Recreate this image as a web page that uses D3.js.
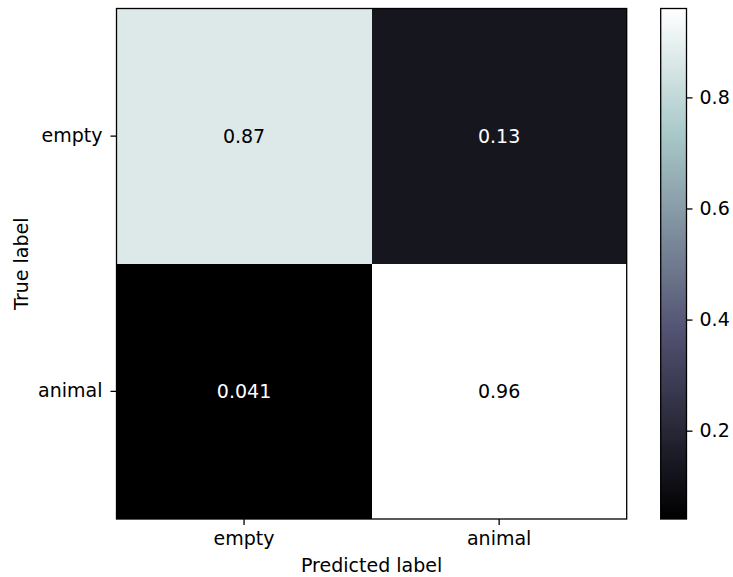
<!DOCTYPE html>
<html>
<head>
<meta charset="utf-8">
<script src="https://cdn.jsdelivr.net/npm/d3@7"></script>
<style>
  html, body { margin: 0; padding: 0; background: #fff; }
  svg { display: block; font-family: "DejaVu Sans", sans-serif; }
</style>
</head>
<body>
<svg id="chart" width="733" height="577"></svg>
<script>
// Confusion matrix: rows are true labels, columns are predicted labels
const trueLabels = ["empty", "animal"];
const predictedLabels = ["empty", "animal"];
const rowEmpty = [0.87, 0.13];
const rowAnimal = [0.041, 0.96];
const cellText = [["0.87", "0.13"], ["0.041", "0.96"]];
const colorbarTicks = [0.2, 0.4, 0.6, 0.8];

const matrix = [rowEmpty, rowAnimal];
const allValues = matrix.flat();
const vmin = d3.min(allValues), vmax = d3.max(allValues);

// Matplotlib "bone" colormap segments
const boneSeg = {
  r: [[0, 0], [0.746032, 0.652778], [1, 1]],
  g: [[0, 0], [0.365079, 0.319444], [0.746032, 0.777778], [1, 1]],
  b: [[0, 0], [0.365079, 0.444444], [1, 1]]
};
function channel(seg, t) {
  for (let i = 1; i < seg.length; i++) {
    if (t <= seg[i][0]) {
      const [x0, y0] = seg[i - 1], [x1, y1] = seg[i];
      return y0 + (y1 - y0) * (t - x0) / (x1 - x0);
    }
  }
  return seg[seg.length - 1][1];
}
function bone(t) {
  t = Math.max(0, Math.min(1, t));
  return d3.rgb(channel(boneSeg.r, t) * 255, channel(boneSeg.g, t) * 255, channel(boneSeg.b, t) * 255).formatHex();
}

const svg = d3.select("#chart");
const fontSize = 19;
const tickLen = 6;

const plotLeft = 116.5, plotRight = 626.7, plotTop = 8.5, plotBottom = 519;
const x = d3.scaleBand().domain(predictedLabels).range([plotLeft, plotRight]);
const y = d3.scaleBand().domain(trueLabels).range([plotTop, plotBottom]);
const norm = d3.scaleLinear().domain([vmin, vmax]).range([0, 1]);

const cells = [];
trueLabels.forEach((t, i) => predictedLabels.forEach((p, j) => {
  cells.push({ t, p, v: matrix[i][j], label: cellText[i][j] });
}));

// Cells
svg.append("g").selectAll("rect").data(cells).join("rect")
  .attr("x", d => x(d.p))
  .attr("y", d => y(d.t))
  .attr("width", x.bandwidth())
  .attr("height", y.bandwidth())
  .attr("fill", d => bone(norm(d.v)))
  .attr("shape-rendering", "crispEdges");

// Value labels; light text on dark cells and dark text on light cells
const thresh = (vmax + vmin) / 2;
svg.append("g").selectAll("text").data(cells).join("text")
  .attr("x", d => x(d.p) + x.bandwidth() / 2)
  .attr("y", d => y(d.t) + y.bandwidth() / 2)
  .attr("text-anchor", "middle")
  .attr("dominant-baseline", "central")
  .attr("font-size", fontSize)
  .attr("fill", d => d.v < thresh ? bone(1) : bone(0))
  .text(d => d.label);

// Frame
svg.append("rect")
  .attr("x", plotLeft).attr("y", plotTop)
  .attr("width", plotRight - plotLeft).attr("height", plotBottom - plotTop)
  .attr("fill", "none").attr("stroke", "#000").attr("stroke-width", 1.3);

// Axes
const xAxis = svg.append("g").attr("transform", `translate(0,${plotBottom})`)
  .call(d3.axisBottom(x).tickSize(tickLen).tickPadding(6).tickSizeOuter(0));
const yAxis = svg.append("g").attr("transform", `translate(${plotLeft},0)`)
  .call(d3.axisLeft(y).tickSize(tickLen).tickPadding(8).tickSizeOuter(0));
[xAxis, yAxis].forEach(a => {
  a.select(".domain").remove();
  a.selectAll("line").attr("stroke", "#000").attr("stroke-width", 1.3);
  a.selectAll("text").attr("font-size", fontSize).attr("fill", "#000")
    .attr("font-family", "DejaVu Sans, sans-serif");
});
xAxis.selectAll("text").attr("dy", "0.76em");

svg.append("text")
  .attr("x", (plotLeft + plotRight) / 2).attr("y", 572)
  .attr("text-anchor", "middle").attr("font-size", fontSize)
  .text("Predicted label");
svg.append("text")
  .attr("transform", `translate(28,${(plotTop + plotBottom) / 2}) rotate(-90)`)
  .attr("text-anchor", "middle").attr("font-size", fontSize)
  .text("True label");

// Colorbar
const cbLeft = 660.7, cbRight = 686.5;
const cbScale = d3.scaleLinear().domain([vmin, vmax]).range([plotBottom, plotTop]);
const defs = svg.append("defs");
const grad = defs.append("linearGradient").attr("id", "boneGrad")
  .attr("x1", 0).attr("y1", 1).attr("x2", 0).attr("y2", 0);
d3.range(0, 1.0001, 0.02).forEach(t => {
  grad.append("stop").attr("offset", t).attr("stop-color", bone(t));
});
svg.append("rect")
  .attr("x", cbLeft).attr("y", plotTop)
  .attr("width", cbRight - cbLeft).attr("height", plotBottom - plotTop)
  .attr("fill", "url(#boneGrad)")
  .attr("stroke", "#000").attr("stroke-width", 1.3);
const cbAxis = svg.append("g").attr("transform", `translate(${cbRight},0)`)
  .call(d3.axisRight(cbScale).tickValues(colorbarTicks).tickFormat(d3.format(".1f"))
    .tickSize(tickLen).tickPadding(7).tickSizeOuter(0));
cbAxis.select(".domain").remove();
cbAxis.selectAll("line").attr("stroke", "#000").attr("stroke-width", 1.3);
cbAxis.selectAll("text").attr("font-size", fontSize).attr("fill", "#000")
  .attr("font-family", "DejaVu Sans, sans-serif");
</script>
</body>
</html>
